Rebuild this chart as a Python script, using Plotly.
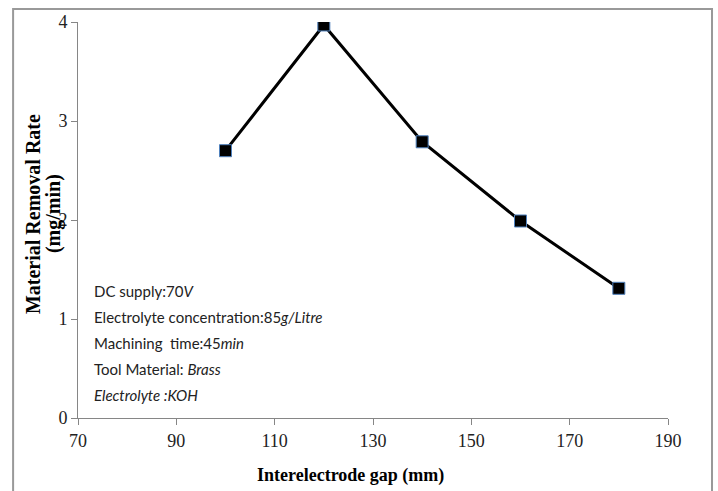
import plotly.graph_objects as go

gap_mm = [100, 120, 140, 160, 180]
mrr = [2.70, 3.97, 2.79, 1.99, 1.31]
x_ticks = [70, 90, 110, 130, 150, 170, 190]
y_ticks = [0, 1, 2, 3, 4]
info_lines = [
    "DC supply:70<i>V</i>",
    "Electrolyte concentration:85<i>g/Litre</i>",
    "Machining  time:45<i>min</i>",
    "Tool Material: <i>Brass</i>",
    "<i>Electrolyte :KOH</i>",
]

fig = go.Figure()
fig.add_trace(go.Scatter(
    x=gap_mm, y=mrr, mode="lines+markers",
    line=dict(color="black", width=3),
    marker=dict(symbol="square", size=12, color="black",
                line=dict(color="#4f81bd", width=1)),
    showlegend=False,
))

axis_common = dict(showgrid=False, zeroline=False, showline=True,
                   linecolor="#868686", linewidth=1, ticks="outside",
                   ticklen=6, tickcolor="#868686",
                   tickfont=dict(family="Liberation Serif", size=18, color="#222"))
fig.update_xaxes(range=[70, 190], tickvals=x_ticks, **axis_common)
fig.update_yaxes(range=[0, 4], tickvals=y_ticks, **axis_common)

annotations = []
y0 = 1.28
for i, t in enumerate(info_lines):
    annotations.append(dict(
        x=72.85, y=y0 - i * 0.262, xref="x", yref="y", text=t, showarrow=False,
        xanchor="left", yanchor="middle",
        font=dict(family="Lato", size=15, color="#222")))
annotations.append(dict(
    x=(33 - 78) / 590, y=0.515, xref="paper", yref="paper", textangle=-90,
    text="<b>Material Removal Rate</b>", showarrow=False,
    xanchor="center", yanchor="middle",
    font=dict(family="Liberation Serif", size=20, color="black")))
annotations.append(dict(
    x=(53 - 78) / 590, y=0.515, xref="paper", yref="paper", textangle=-90,
    text="<b>(mg/min)</b>", showarrow=False,
    xanchor="center", yanchor="middle",
    font=dict(family="Liberation Serif", size=20, color="black")))
annotations.append(dict(
    x=(350 - 78) / 590, y=-0.145, xref="paper", yref="paper",
    text="<b>Interelectrode gap (mm)</b>", showarrow=False,
    xanchor="center", yanchor="middle",
    font=dict(family="Liberation Serif", size=18, color="black")))

fig.update_layout(
    width=718, height=491,
    margin=dict(l=78, r=50, t=19, b=73),
    plot_bgcolor="white", paper_bgcolor="white",
    annotations=annotations,
    shapes=[dict(type="rect", xref="paper", yref="paper",
                 x0=-0.110, x1=1.0746, y0=-0.2, y1=1.0326,
                 line=dict(color="#999999", width=2), layer="below")],
)
fig.write_html("out.html", config={"displayModeBar": False},
               post_script="document.body.style.margin='0';document.body.style.overflow='hidden';")
